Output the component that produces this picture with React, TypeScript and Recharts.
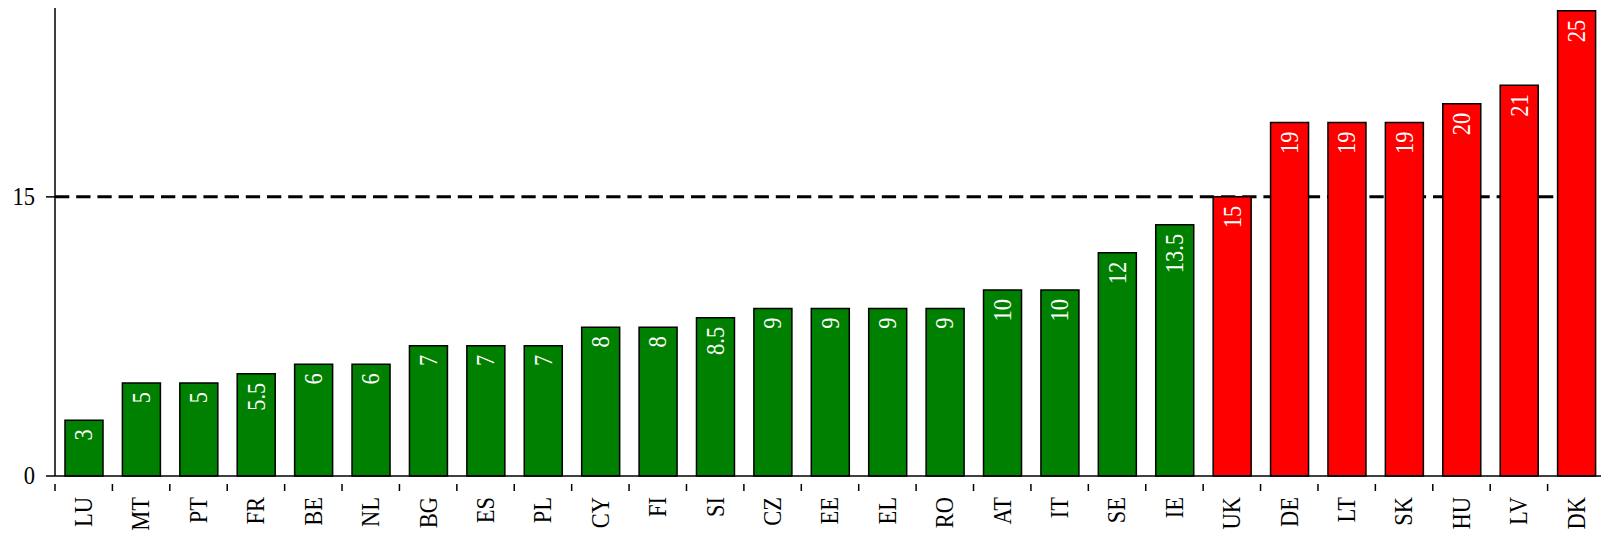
import React from 'react';
import { BarChart, Bar, XAxis, YAxis, Cell, LabelList, ReferenceLine } from 'recharts';

const countries = ['LU', 'MT', 'PT', 'FR', 'BE', 'NL', 'BG', 'ES', 'PL', 'CY', 'FI', 'SI', 'CZ', 'EE', 'EL', 'RO', 'AT', 'IT', 'SE', 'IE', 'UK', 'DE', 'LT', 'SK', 'HU', 'LV', 'DK'];
const values = [3, 5, 5, 5.5, 6, 6, 7, 7, 7, 8, 8, 8.5, 9, 9, 9, 9, 10, 10, 12, 13.5, 15, 19, 19, 19, 20, 21, 25];
const threshold = 15;
const yTicks = [0, 15];

const GREEN = '#008000';
const RED = '#ff0000';
const FONT = "'Liberation Serif', 'Times New Roman', serif";
const STRETCH = 1.1; // glyphs in the original are a bit taller than Liberation Serif

const data = countries.map((c, i) => ({ name: c, value: values[i] }));

const W = 1605;
const H = 538;
const PLOT_W = W - 55;
const BAND = PLOT_W / countries.length;

// rotated text reading bottom-to-top, ending at (x, y)
const UpText = ({ x, y, fill, children }: any) => (
  <text
    x={0}
    y={0}
    transform={`translate(${x}, ${y}) rotate(-90) scale(1, ${STRETCH})`}
    textAnchor="end"
    dominantBaseline="central"
    fontFamily={FONT}
    fontSize={22.5}
    fill={fill}
  >
    {children}
  </text>
);

const XTick = ({ x, y, payload }: any) => {
  const half = payload && payload.offset ? payload.offset : BAND / 2;
  return (
    <g>
      <line x1={x - half} x2={x - half} y1={y} y2={y + 7} stroke="#000" strokeWidth={1.5} />
      <UpText x={x} y={497} fill="#000">{payload.value}</UpText>
    </g>
  );
};

const YTick = ({ x, y, payload }: any) => (
  <text
    x={0}
    y={0}
    transform={`translate(${x}, ${y}) scale(1, ${STRETCH})`}
    textAnchor="end"
    dominantBaseline="central"
    fontFamily={FONT}
    fontSize={22.5}
    fill="#000"
  >
    {payload.value}
  </text>
);

const BarLabel = ({ x, y, width, value }: any) => (
  <UpText x={x + width / 2} y={y + 9} fill="#fff">{value}</UpText>
);

export default function App() {
  return (
    <div style={{ position: 'fixed', left: 0, top: 0, width: 1601, height: 538, overflow: 'hidden', background: '#fff' }}>
      <BarChart width={W} height={H} data={data} margin={{ top: 8, right: 0, left: 0, bottom: 0 }} barCategoryGap={0}>
        <XAxis
          dataKey="name"
          height={62}
          interval={0}
          tickLine={false}
          axisLine={{ stroke: '#000', strokeWidth: 1.5 }}
          tick={<XTick />}
        />
        <YAxis
          width={55}
          domain={[0, 25.15]}
          ticks={yTicks}
          tickSize={9}
          tickMargin={11}
          axisLine={{ stroke: '#000', strokeWidth: 1.5 }}
          tickLine={{ stroke: '#000', strokeWidth: 1.5 }}
          tick={<YTick />}
        />
        <ReferenceLine y={threshold} stroke="#000" strokeWidth={3} strokeDasharray="14.3 6.9" zIndex={100} />
        <Bar dataKey="value" barSize={38} stroke="#000" strokeWidth={1.5} isAnimationActive={false}>
          {data.map((d) => (
            <Cell key={d.name} fill={d.value >= threshold ? RED : GREEN} />
          ))}
          <LabelList dataKey="value" content={<BarLabel />} />
        </Bar>
      </BarChart>
    </div>
  );
}
